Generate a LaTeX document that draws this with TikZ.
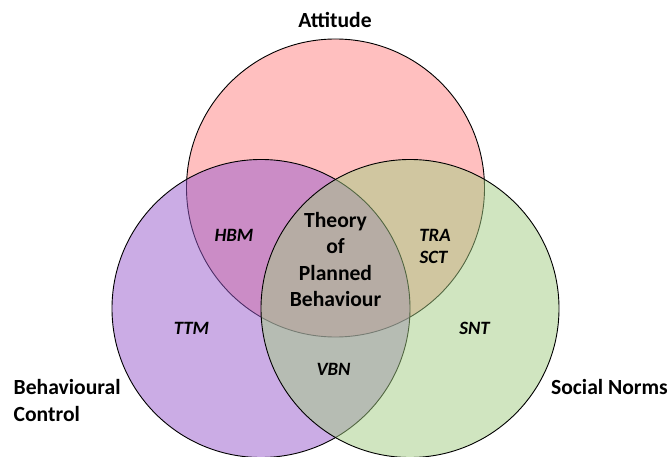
\documentclass[tikz,border=0pt]{standalone}
\usepackage{fontspec}
\setmainfont{Carlito}
\definecolor{attfill}{RGB}{255,191,191}
\definecolor{bcfill}{RGB}{153,91,205}
\definecolor{snfill}{RGB}{163,205,131}
\tikzset{
  setcircle/.style={draw=black, line width=0.9pt},
  mainlabel/.style={inner sep=0pt, font=\fontsize{21.6}{26.4}\selectfont\bfseries},
  modellabel/.style={inner sep=0pt, font=\fontsize{18.8}{23}\selectfont\bfseries\itshape},
}
\begin{document}
\begin{tikzpicture}[x=1pt, y=-1pt]
  \useasboundingbox[fill=white] (0,0) rectangle (669,457);

  % the three sets: attitude (top), behavioural control (left), social norms (right)
  \draw[setcircle, fill=attfill] (335.5,188) circle (149pt);
  \draw[setcircle, fill=bcfill, fill opacity=0.5] (261,308.5) circle (149pt);
  \draw[setcircle, fill=snfill, fill opacity=0.5] (410,308.5) circle (149pt);

  % set names
  \node[mainlabel, anchor=base] (att) at (335,27.5) {Attitude};
  \node[mainlabel, anchor=base west] (bc1) at (13.5,394.5) {Behavioural};
  \node[mainlabel, anchor=base west] (bc2) at (13.5,421) {Control};
  \node[mainlabel, anchor=base east] (sn) at (668,394) {Social Norms};

  % centre of the diagram
  \node[mainlabel, anchor=base] (tpb1) at (335.5,227) {Theory};
  \node[mainlabel, anchor=base] (tpb2) at (335.5,253.5) {of};
  \node[mainlabel, anchor=base] (tpb3) at (335.5,280) {Planned};
  \node[mainlabel, anchor=base] (tpb4) at (335.5,306.5) {Behaviour};

  % models in the other regions
  \node[modellabel, anchor=base] (hbm) at (234,241.5) {HBM};
  \node[modellabel, anchor=base] (tra) at (435,241.5) {TRA};
  \node[modellabel, anchor=base] (sct) at (433.5,263) {SCT};
  \node[modellabel, anchor=base] (ttm) at (191.5,334.5) {TTM};
  \node[modellabel, anchor=base] (snt) at (474.5,334.5) {SNT};
  \node[modellabel, anchor=base] (vbn) at (333.5,375.5) {VBN};
\end{tikzpicture}
\end{document}
